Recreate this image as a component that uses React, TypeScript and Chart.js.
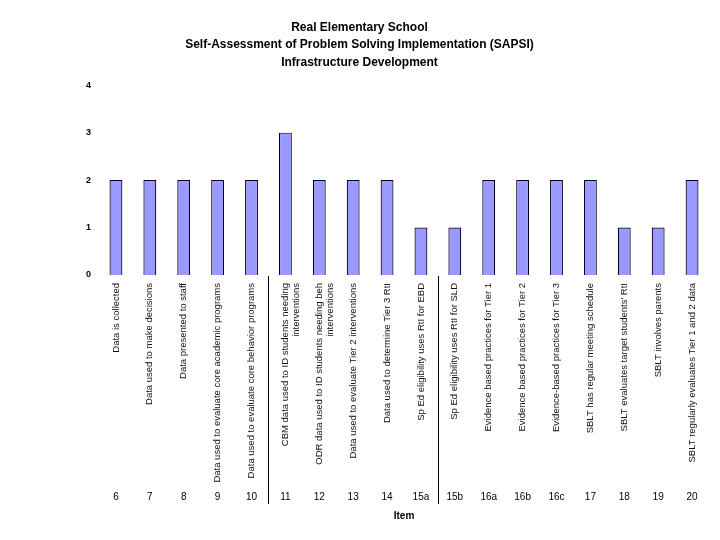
import React, { useEffect, useRef } from "react";
import { Chart, registerables } from "chart.js";

Chart.register(...registerables);

const titleLines = [
  "Real Elementary School",
  "Self-Assessment of Problem Solving Implementation (SAPSI)",
  "Infrastructure Development",
];

const itemNumbers = ["6", "7", "8", "9", "10", "11", "12", "13", "14", "15a", "15b", "16a", "16b", "16c", "17", "18", "19", "20"];

const itemLabels: (string | string[])[] = [
  "Data is collected",
  "Data used to make decisions",
  "Data presented to staff",
  "Data used to evaluate core academic programs",
  "Data used to evaluate core behavior programs",
  ["CBM data used to ID students needing", "interventions"],
  ["ODR data used to ID students needing beh", "interventions"],
  "Data used to evaluate Tier 2 interventions",
  "Data used to determine Tier 3 RtI",
  "Sp Ed eligibility uses RtI for EBD",
  "Sp Ed eligibility uses RtI for SLD",
  "Evidence based practices for Tier 1",
  "Evidence based practices for Tier 2",
  "Evidence-based practices for Tier 3",
  "SBLT has regular meeting schedule",
  "SBLT evaluates target students' RtI",
  "SBLT involves parents",
  "SBLT regularly evaluates Tier 1 and 2 data",
];

const scores = [2, 2, 2, 2, 2, 3, 2, 2, 2, 1, 1, 2, 2, 2, 2, 1, 1, 2];

const yTicks = [0, 1, 2, 3, 4];

// group separators: drawn after these category indices
const separatorsAfter = [4, 9];

const FONT = "'Liberation Sans', Arial, Helvetica, sans-serif";

const separatorPlugin = {
  id: "separators",
  afterDraw(chart: any) {
    const x = chart.scales.x;
    const x2 = chart.scales.x2;
    const y = chart.scales.y;
    const ctx = chart.ctx;
    ctx.save();
    ctx.strokeStyle = "#000";
    ctx.lineWidth = 1;
    ctx.beginPath();
    for (const i of separatorsAfter) {
      const px = Math.round((x.getPixelForValue(i) + x.getPixelForValue(i + 1)) / 2) + 0.5;
      ctx.moveTo(px, y.bottom + 1);
      ctx.lineTo(px, x2.top + 19);
    }
    ctx.stroke();
    ctx.restore();
  },
};

export default function App() {
  const ref = useRef<HTMLCanvasElement>(null);

  useEffect(() => {
    if (!ref.current) return;
    const chart = new Chart(ref.current, {
      type: "bar",
      data: {
        labels: itemLabels,
        datasets: [
          {
            data: scores,
            backgroundColor: "#9999ff",
            borderColor: "#000022",
            borderWidth: 1.2,
            barPercentage: 0.38,
            categoryPercentage: 1,
            xAxisID: "x",
            yAxisID: "y",
          },
        ],
      },
      options: {
        responsive: false,
        animation: false,
        layout: { padding: { left: 10, right: 11, top: 0, bottom: 14 } },
        plugins: {
          legend: { display: false },
          tooltip: { enabled: false },
          title: {
            display: true,
            text: titleLines,
            color: "#000",
            font: { family: FONT, size: 12, weight: "bold", lineHeight: 1.45 },
            padding: { top: 19, bottom: 14 },
          },
        },
        scales: {
          x: {
            type: "category",
            position: "bottom",
            weight: 0,
            offset: true,
            grid: { display: false, drawTicks: false },
            border: { display: false },
            ticks: {
              autoSkip: false,
              maxRotation: 90,
              minRotation: 90,
              padding: 8,
              color: "#111",
              font: { family: FONT, size: 9.5 },
            },
            afterFit: (s: any) => {
              s.height = 210;
            },
          },
          x2: {
            type: "category",
            position: "bottom",
            weight: 1,
            offset: true,
            labels: itemNumbers,
            grid: { display: false, drawTicks: false },
            border: { display: false },
            ticks: {
              autoSkip: false,
              maxRotation: 0,
              minRotation: 0,
              padding: 6,
              color: "#000",
              font: { family: FONT, size: 10 },
            },
            title: {
              display: true,
              text: "Item",
              color: "#000",
              font: { family: FONT, size: 10, weight: "bold" },
              padding: { top: 0, bottom: 4 },
            },
            afterFit: (s: any) => {
              s.height = 41;
            },
          },
          y: {
            min: yTicks[0],
            max: yTicks[yTicks.length - 1],
            grid: { display: false, drawTicks: false },
            border: { display: false },
            ticks: {
              stepSize: 1,
              padding: 8,
              color: "#000",
              font: { family: FONT, size: 9, weight: "bold" },
            },
            afterFit: (s: any) => {
              s.width = 89;
            },
          },
        },
      },
      plugins: [separatorPlugin],
    } as any);
    return () => chart.destroy();
  }, []);

  return (
    <div style={{ position: "absolute", left: 0, top: 0, width: 720, height: 540, background: "#fff" }}>
      <canvas ref={ref} width={720} height={540} />
    </div>
  );
}
